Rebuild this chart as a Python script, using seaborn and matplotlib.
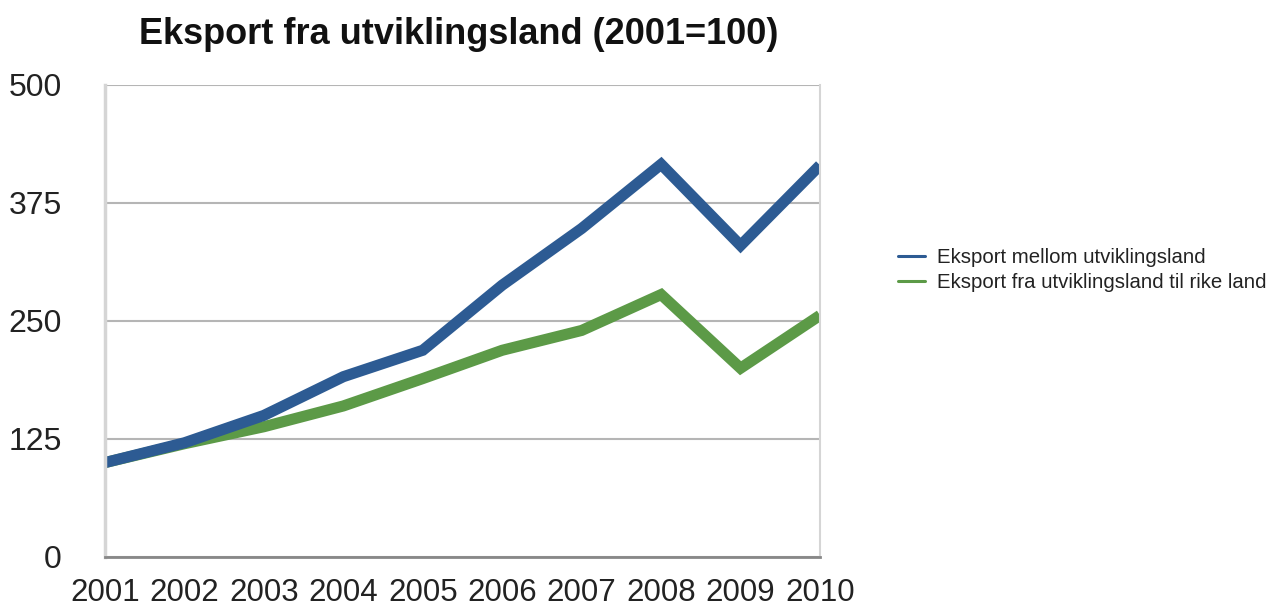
import matplotlib
matplotlib.use("Agg")
import matplotlib.pyplot as plt
import seaborn as sns
import pandas as pd
from matplotlib.lines import Line2D

years = [2001, 2002, 2003, 2004, 2005, 2006, 2007, 2008, 2009, 2010]
between_dev = [100, 121, 150, 191, 219, 288, 348, 416, 330, 415]
dev_to_rich = [100, 120, 138, 160, 189, 219, 240, 278, 200, 256]
series_names = ["Eksport mellom utviklingsland", "Eksport fra utviklingsland til rike land"]
y_ticks = [0, 125, 250, 375, 500]
title = "Eksport fra utviklingsland (2001=100)"

df = pd.DataFrame({
    "year": years * 2,
    "value": between_dev + dev_to_rich,
    "series": [series_names[0]] * len(years) + [series_names[1]] * len(years),
})

sns.set_theme(style="white")
plt.rcParams["font.family"] = ["Liberation Sans", "DejaVu Sans"]

fig = plt.figure(figsize=(12.77, 6.11), dpi=100)
ax = fig.add_axes([105 / 1277, 1 - 557 / 611, (820 - 105) / 1277, (557 - 85) / 611])

palette = {series_names[0]: "#2d5b93", series_names[1]: "#5c9a47"}
# draw green first so blue sits on top
sns.lineplot(data=df, x="year", y="value", hue="series", palette=palette,
             hue_order=[series_names[1], series_names[0]],
             linewidth=8, ax=ax, legend=False, solid_capstyle="butt",
             solid_joinstyle="miter")

ax.set_xlim(years[0], years[-1])
ax.set_ylim(0, 500)
ax.set_yticks(y_ticks)
ax.set_xticks(years)
ax.set_xticklabels([str(y) for y in years])
ax.set_xlabel("")
ax.set_ylabel("")
ax.tick_params(axis="y", labelsize=23, colors="#222222", length=0, pad=31)
ax.tick_params(axis="x", labelsize=22.5, colors="#222222", length=0, pad=15)

ax.yaxis.grid(True, color="#b5b5b5", linewidth=1.5)
ax.xaxis.grid(False)
ax.set_axisbelow(True)
ax.spines["top"].set_visible(False)
ax.spines["left"].set_color("#d5d5d5")
ax.spines["left"].set_linewidth(2.5)
ax.spines["right"].set_color("#d5d5d5")
ax.spines["right"].set_linewidth(1.5)
ax.spines["bottom"].set_color("#888888")
ax.spines["bottom"].set_linewidth(2)

fig.text(459 / 1277, 1 - 35 / 611, title, ha="center", va="center",
         fontsize=26, fontweight="bold", color="#111111")

handles = [Line2D([0], [0], color=palette[n], linewidth=2.2) for n in series_names]
fig.legend(handles, series_names, loc="center left",
           bbox_to_anchor=(886 / 1277, 1 - 270 / 611), frameon=False,
           fontsize=14.7, handlelength=1.3, handletextpad=0.6, labelspacing=0.3,
           labelcolor="#222222", borderaxespad=0.2)

fig.savefig("out.png", dpi=100)
